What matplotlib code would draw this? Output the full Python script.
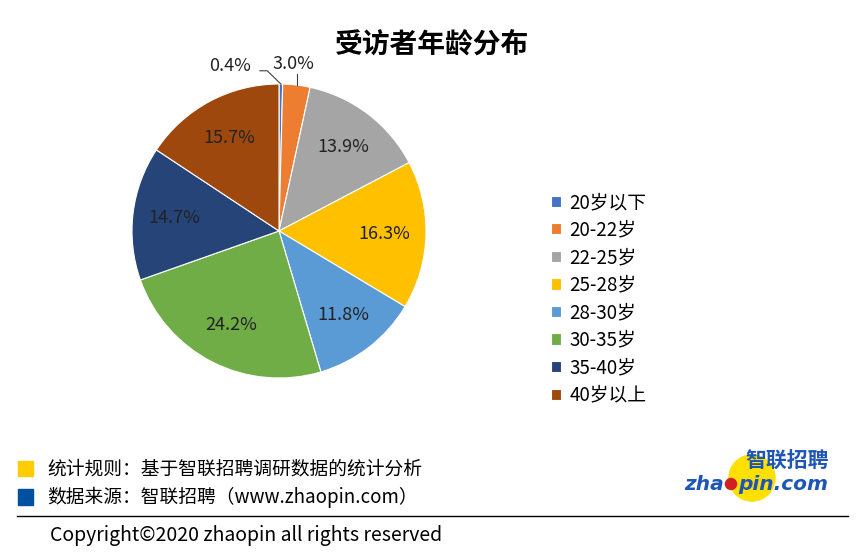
import matplotlib.pyplot as plt
import numpy as np
from matplotlib.patches import Circle, Rectangle

plt.rcParams['font.family'] = ['Noto Sans CJK SC', 'DejaVu Sans']

labels = ['20岁以下', '20-22岁', '22-25岁', '25-28岁', '28-30岁', '30-35岁', '35-40岁', '40岁以上']
values = [0.4, 3.0, 13.9, 16.3, 11.8, 24.2, 14.7, 15.7]
colors = ['#4472C4', '#ED7D31', '#A5A5A5', '#FFC000', '#5B9BD5', '#70AD47', '#264478', '#9E480E']

W, H = 865, 557
fig = plt.figure(figsize=(W / 100, H / 100), dpi=100)

# overlay in pixel coords for footer stuff
bg = fig.add_axes([0, 0, 1, 1])
bg.set_xlim(0, W)
bg.set_ylim(H, 0)
bg.axis('off')

fig.text(0.5, 1 - 45 / H, '受访者年龄分布', ha='center', va='center', fontsize=20, fontweight='bold')

# pie
cx, cy, r = 279, 231, 147
ax = fig.add_axes([(cx - r) / W, (H - cy - r) / H, 2 * r / W, 2 * r / H])
wedges, texts, autotexts = ax.pie(values, colors=colors, startangle=90, counterclock=False,
                                  autopct='%.1f%%', pctdistance=0.72,
                                  wedgeprops=dict(edgecolor='white', linewidth=0.8),
                                  textprops=dict(fontsize=13, color='#222222'))
ax.set_xlim(-1, 1)
ax.set_ylim(-1, 1)
ax.set_aspect('equal')

# move the two thin slices' labels outside
for i, (tx, ty) in zip([0, 1], [(-0.33, 1.12), (0.1, 1.135)]):
    w = wedges[i]
    ang = np.deg2rad((w.theta1 + w.theta2) / 2)
    ex, ey = np.cos(ang), np.sin(ang)
    autotexts[i].set_position((tx, ty))
    autotexts[i].set_ha('center')
    if i == 0:
        ax.plot([tx + 0.2, tx + 0.25, ex], [ty - 0.03, ty - 0.03, ey], color='#404040', lw=0.8, clip_on=False)
    else:
        ax.plot([ex, ex], [ey, ty - 0.07], color='#404040', lw=0.8, clip_on=False)

# legend
fig.legend(wedges, labels, loc='upper left', bbox_to_anchor=(534 / W, 1 - 175 / H),
           frameon=False, fontsize=13.5, handlelength=0.55, handleheight=0.55,
           handletextpad=0.45, labelspacing=0.35)

# footer
bg.add_patch(Rectangle((18, 461), 15, 15, color='#FFCC00'))
bg.add_patch(Rectangle((18, 489), 15, 16, color='#0050A0'))
bg.text(47, 469, '统计规则：基于智联招聘调研数据的统计分析', fontsize=13.5, va='center')
bg.text(47, 497, '数据来源：智联招聘（www.zhaopin.com）', fontsize=13.5, va='center')
bg.plot([17, 848], [516, 516], color='black', lw=1)
bg.text(50, 536, 'Copyright©2020 zhaopin all rights reserved', fontsize=14, va='center')

# logo
bg.add_patch(Circle((752, 478), 23, color='#FFE000', zorder=1))
bg.add_patch(Circle((731, 484), 5.5, color='#D02020', zorder=3))
bg.text(787, 461, '智联招聘', fontsize=15, fontweight='bold', style='italic', color='#1E56B8',
        ha='center', va='center', zorder=2)
bg.text(724, 484, 'zha', fontsize=14.5, fontweight='bold', style='italic', color='#1E56B8',
        ha='right', va='center', family='DejaVu Sans', zorder=2)
bg.text(738, 484, 'pin.com', fontsize=14.5, fontweight='bold', style='italic', color='#1E56B8',
        ha='left', va='center', family='DejaVu Sans', zorder=2)

fig.savefig('out.png', dpi=100)
